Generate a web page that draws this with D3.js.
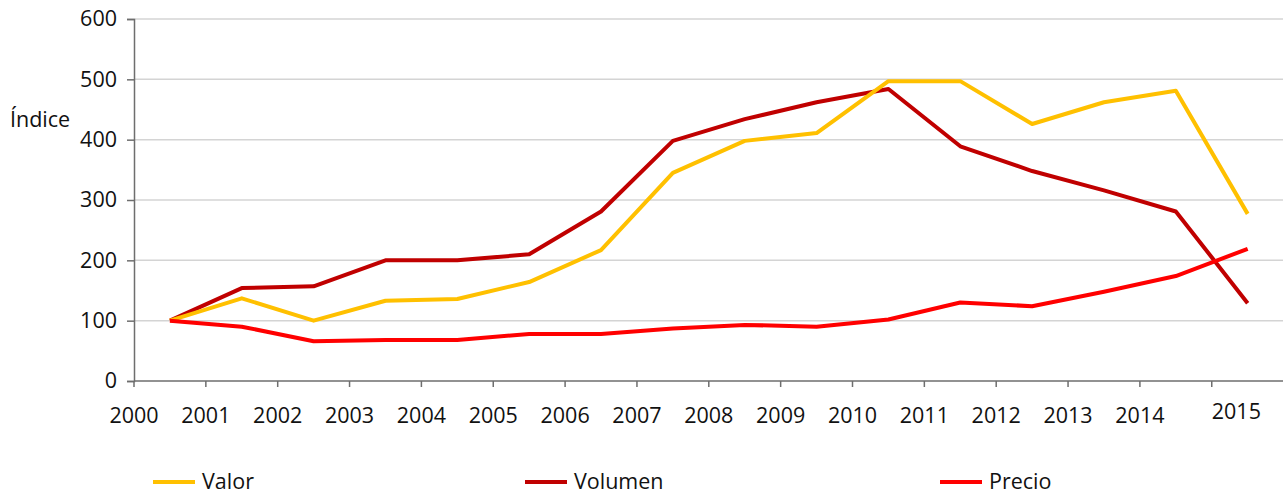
<!DOCTYPE html>
<html>
<head>
<meta charset="utf-8">
<script src="https://cdn.jsdelivr.net/npm/d3@7"></script>
<style>
  body { margin:0; background:#fff; }
  text { font-family:"Open Sans", sans-serif; fill:#111; }
</style>
</head>
<body>
<svg id="chart" width="1283" height="494"></svg>
<script>
// data
const years = ["2000","2001","2002","2003","2004","2005","2006","2007",
               "2008","2009","2010","2011","2012","2013","2014","2015"];
const valor   = [100,137,100,133,136,164,217,345,398,411,497,497,426,462,481,277];
const volumen = [100,154,157,200,200,210,281,398,434,462,484,389,348,316,281,129];
const precio  = [100, 90, 66, 68, 68, 78, 78, 87, 93, 90,102,130,124,148,174,219];
const yTicks = [0,100,200,300,400,500,600];

const series = [
  {name:"Valor",   values:valor,   color:"#ffc000", lx:153},
  {name:"Volumen", values:volumen, color:"#c00000", lx:525},
  {name:"Precio",  values:precio,  color:"#ff0000", lx:940},
];

let svg = d3.select("#chart");
let mLeft = 134, mRight = 1283, mTop = 19, mBottom = 381;
let fs = "21.5px";

let x = d3.scaleBand().domain(years).range([mLeft, mLeft + 71.85*16]);
let y = d3.scaleLinear().domain([0,600]).range([mBottom, mTop]);

// gridlines
svg.append("g")
  .selectAll("line")
  .data(yTicks.filter(d => d > 0))
  .enter()
  .append("line")
  .attr("x1", mLeft).attr("x2", mRight)
  .attr("y1", d => y(d)).attr("y2", d => y(d))
  .attr("stroke", "#d4d4d4")
  .attr("stroke-width", 1.5);

// y axis
let yAxis = svg.append("g")
  .attr("transform", "translate(" + mLeft + ",0)")
  .call(d3.axisLeft(y).tickValues(yTicks).tickSize(7).tickPadding(10));
yAxis.select(".domain").attr("stroke", "#6e6e6e").attr("stroke-width", 1.5);
yAxis.selectAll(".tick line").attr("stroke", "#6e6e6e").attr("stroke-width", 1.5);
yAxis.selectAll("text").style("font-size", fs).attr("fill", "#111")
  .attr("font-family", '"Open Sans", sans-serif');

// x axis: ticks at band edges, labels under the ticks
let xg = svg.append("g");
xg.append("line")
  .attr("x1", mLeft).attr("x2", mRight)
  .attr("y1", mBottom).attr("y2", mBottom)
  .attr("stroke", "#6e6e6e").attr("stroke-width", 1.5);
xg.selectAll(".xt")
  .data(years)
  .enter()
  .append("line")
  .attr("class", "xt")
  .attr("x1", d => x(d)).attr("x2", d => x(d))
  .attr("y1", mBottom).attr("y2", mBottom + 6)
  .attr("stroke", "#6e6e6e").attr("stroke-width", 1.5);
xg.selectAll(".xl")
  .data(years)
  .enter()
  .append("text")
  .attr("class", "xl")
  .attr("x", d => x(d))
  .attr("y", (d, i) => i == years.length - 1 ? 419 : 423)
  .attr("text-anchor", (d, i) => i == years.length - 1 ? "start" : "middle")
  .style("font-size", fs)
  .text(d => d);

// y title
svg.append("text")
  .attr("x", 10).attr("y", 127)
  .style("font-size", fs)
  .text("Índice");

// lines
let line = d3.line()
  .x((d, i) => x(years[i]) + x.bandwidth()/2)
  .y(d => y(d));
let order = [series[1], series[0], series[2]];
svg.append("g")
  .selectAll("path")
  .data(order)
  .enter()
  .append("path")
  .attr("d", s => line(s.values))
  .attr("fill", "none")
  .attr("stroke", s => s.color)
  .attr("stroke-width", 4)
  .attr("stroke-linejoin", "round");

// legend
let lg = svg.append("g")
  .selectAll("g")
  .data(series)
  .enter()
  .append("g");
lg.append("line")
  .attr("x1", s => s.lx).attr("x2", s => s.lx + 42)
  .attr("y1", 482).attr("y2", 482)
  .attr("stroke", s => s.color)
  .attr("stroke-width", 4);
lg.append("text")
  .attr("x", s => s.lx + 49).attr("y", 489)
  .style("font-size", fs)
  .text(s => s.name);
</script>
</body>
</html>
